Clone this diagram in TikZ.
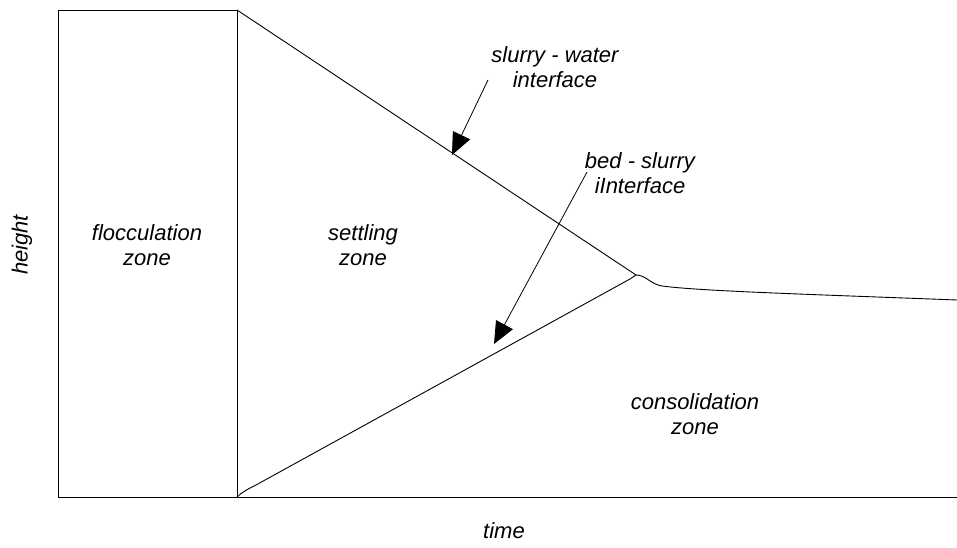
\documentclass[tikz,border=0pt]{standalone}
\usepackage{fontspec}
\setmainfont{Liberation Sans}
\usetikzlibrary{arrows.meta}
\begin{document}
\begin{tikzpicture}[x=1pt,y=-1pt,
  lbl/.style={font=\fontsize{22}{24.5}\selectfont\itshape, align=center, inner sep=0pt},
  ln/.style={line width=0.9pt},
  callout/.style={line width=0.8pt, -{Triangle[length=22pt,width=19pt]}}]
\useasboundingbox (0,0) rectangle (957,548);
\draw[ln] (58,10) rectangle (237,497);
\draw[ln] (237,497) -- (957,497);
\coordinate (tl) at (237,10);
\coordinate (bl) at (237,497);
\coordinate (m) at (636,275);
\draw[ln] (tl) -- (m);
\draw[ln] (bl) .. controls (242,492) and (248,489) .. (256,485) -- (630,279) -- (m);
\draw[ln] (m) .. controls (646,275) and (650,284) .. (662,286)
  .. controls (700,291) and (800,294) .. (957,300);
\node[lbl] (floc) at (147,245) {flocculation\\zone};
\node[lbl] (sett) at (363,245) {settling\\zone};
\node[lbl] (cons) at (695,414) {consolidation\\zone};
\node[lbl] (sw) at (555,67) {slurry - water\\interface};
\node[lbl] (bs) at (640,173) {bed - slurry\\iInterface};
\node[lbl, rotate=90] (h) at (22,245) {height};
\node[lbl] (t) at (504,531) {time};
\coordinate (a1s) at (488,80);
\coordinate (a1e) at (452,155);
\coordinate (a2s) at (587,172);
\coordinate (a2e) at (494,344);
\draw[callout] (a1s) -- (a1e);
\draw[callout] (a2s) -- (a2e);
\end{tikzpicture}
\end{document}
